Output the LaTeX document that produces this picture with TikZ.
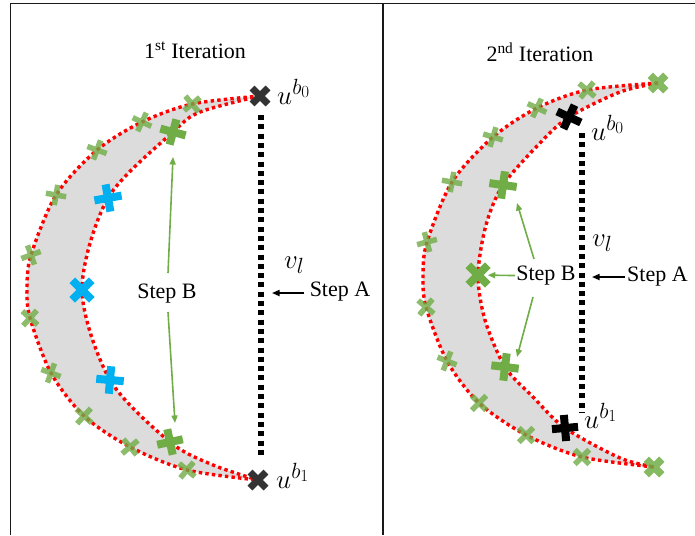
\RequirePackage{fix-cm}
\documentclass[tikz,border=0pt]{standalone}
\usepackage{fontspec}
\setmainfont{Liberation Serif}
\usetikzlibrary{shapes.misc,arrows.meta}
\definecolor{gx}{HTML}{70AD47}
\definecolor{bx}{HTML}{00B0F0}
\definecolor{kx}{HTML}{333333}
\definecolor{crescent}{RGB}{220,220,220}
\DeclareMathSizes{27}{27}{22}{17}
\newcommand{\mlab}[1]{{\fontsize{27}{32}\selectfont$#1$}}
\tikzset{
  sg/.style={cross out, draw=gx, draw opacity=0.8, line width=5.5pt, minimum size=14.5pt, inner sep=0pt, outer sep=0pt},
  bg/.style={cross out, draw=gx, line width=8pt, minimum size=18.5pt, inner sep=0pt, outer sep=0pt},
  bgx/.style={cross out, draw=gx, draw opacity=0.85, line width=7.5pt, minimum size=15.5pt, inner sep=0pt, outer sep=0pt},
  blx/.style={cross out, draw=bx, line width=8pt, minimum size=19.5pt, inner sep=0pt, outer sep=0pt},
  kxl/.style={cross out, draw=kx, line width=7pt, minimum size=16pt, inner sep=0pt, outer sep=0pt},
  kxr/.style={cross out, draw=black, line width=8pt, minimum size=18.5pt, inner sep=0pt, outer sep=0pt},
  reddot/.style={draw=red, line width=3.4pt, line cap=butt, dash pattern=on 3.4pt off 3.2pt},
  vdots/.style={draw=black, line width=5.5pt, dash pattern=on 5pt off 4.3pt},
  garrow/.style={draw=gx, line width=1.6pt, -{Triangle[length=7.5pt,width=6pt]}},
  karrow/.style={draw=black, line width=1.6pt, -{Triangle[length=7.5pt,width=6pt]}},
  lbl/.style={font=\fontsize{22}{26}\selectfont, inner sep=0pt},
  mlbl/.style={inner sep=0pt, anchor=base west},
  frame/.style={draw=black!90, line width=1.6pt}
}
\begin{document}
\begin{tikzpicture}[x=1pt,y=-1pt]
\useasboundingbox (0,0) rectangle (695,535);
% frame
\coordinate (fTL) at (10.5,3.5);
\coordinate (fTR) at (695,3.5);
\coordinate (fBL) at (10.5,535);
\coordinate (fM) at (383,3.5);
\coordinate (fMB) at (383,535);
\draw[frame] (fBL) -- (fTL) -- (fTR);
\draw[frame] (fM) -- (fMB);

% ---------- left panel ----------
\fill[crescent] plot[smooth] coordinates {(260,96) (192,104) (142,122) (97,150) (56,195) (31,255) (27,288) (30,318) (51,373) (84,416) (130,447) (187,470) (258,480)}
  -- plot[smooth] coordinates {(258,480) (213,465) (170,442) (110,380) (82,290) (108,198) (173,132) (200,112) (260,96)} -- cycle;
\draw[reddot] plot[smooth] coordinates {(260,96) (192,104) (142,122) (97,150) (56,195) (31,255) (27,288) (30,318) (51,373) (84,416) (130,447) (187,470) (258,480)};
\draw[reddot] plot[smooth] coordinates {(260,96) (200,112) (173,132) (108,198) (82,290) (110,380) (170,442) (213,465) (258,480)};

\coordinate (lvt) at (261,115);
\coordinate (lvb) at (261,455);
\draw[vdots] (lvt) -- (lvb);

\node[sg, rotate=-5] (lo1) at (192,104) {};
\node[sg, rotate=20] (lo2) at (142,122) {};
\node[sg, rotate=25] (lo3) at (97,150) {};
\node[sg, rotate=35] (lo4) at (56,195) {};
\node[sg, rotate=65] (lo5) at (31,255) {};
\node[sg, rotate=3] (lo6) at (30,318) {};
\node[sg, rotate=25] (lo7) at (51,373) {};
\node[sg, rotate=3] (lo8) at (84,416) {};
\node[sg, rotate=-5] (lo9) at (130,447) {};
\node[sg, rotate=5] (lo10) at (187,470) {};

\node[bg, rotate=30] (lg1) at (173,132) {};
\node[blx, rotate=55] (lb1) at (108,198) {};
\node[blx, rotate=0] (lb2) at (82,290) {};
\node[blx, rotate=40] (lb3) at (110,380) {};
\node[bg, rotate=57] (lg2) at (170,442) {};

\node[kxl] (lub0) at (260,96) {};
\node[kxl] (lub1) at (258,480) {};

\node[lbl] (t1) at (195,50) {1\textsuperscript{st} Iteration};
\node[mlbl] (lu0) at (277,104) {\mlab{u^{b_0}}};
\node[mlbl] (lu1) at (276,488) {\mlab{u^{b_1}}};
\node[mlbl] (lvl) at (284,268) {\mlab{v_l}};
\node[lbl] (lsB) at (167,294) {Step B};
\node[lbl] (lsA) at (340,292) {Step A};

\coordinate (lbu0) at (168,273);
\coordinate (lbu1) at (173,157);
\coordinate (lbd0) at (168,312);
\coordinate (lbd1) at (175,423);
\coordinate (la0) at (304,293);
\coordinate (la1) at (272,293);
\draw[garrow] (lbu0) -- (lbu1);
\draw[garrow] (lbd0) -- (lbd1);
\draw[karrow] (la0) -- (la1);

% ---------- right panel ----------
\fill[crescent] plot[smooth] coordinates {(658,83) (587,90) (537,108) (493,137) (452,182) (427,242) (423,275) (426,307) (447,361) (479,403) (526,435) (582,457) (654,467)}
  -- plot[smooth] coordinates {(654,467) (620,458) (565,428) (533,397) (505,367) (485,320) (478,275) (486,225) (503,185) (540,143) (569,117) (620,92) (658,83)} -- cycle;
\draw[reddot] plot[smooth] coordinates {(658,83) (587,90) (537,108) (493,137) (452,182) (427,242) (423,275) (426,307) (447,361) (479,403) (526,435) (582,457) (654,467)};
\draw[reddot] plot[smooth] coordinates {(658,83) (620,92) (569,117) (540,143) (503,185) (486,225) (478,275) (485,320) (505,367) (533,397) (565,428) (620,458) (654,467)};

\coordinate (rvt) at (582,133);
\coordinate (rvb) at (582,413);
\draw[vdots] (rvt) -- (rvb);

\node[sg, rotate=5] (ro1) at (587,90) {};
\node[sg, rotate=20] (ro2) at (537,108) {};
\node[sg, rotate=28] (ro3) at (493,137) {};
\node[sg, rotate=35] (ro4) at (452,182) {};
\node[sg, rotate=60] (ro5) at (427,242) {};
\node[sg, rotate=5] (ro6) at (426,307) {};
\node[sg, rotate=23] (ro7) at (447,361) {};
\node[sg, rotate=0] (ro8) at (479,403) {};
\node[sg, rotate=0] (ro9) at (526,435) {};
\node[sg, rotate=0] (ro10) at (582,457) {};

\node[bgx] (re0) at (658,83) {};
\node[bgx] (re1) at (654,467) {};
\node[bg, minimum size=19.5pt, rotate=37] (rg1) at (503,185) {};
\node[bg, minimum size=19.5pt, rotate=0] (rg2) at (478,275) {};
\node[bg, minimum size=19.5pt, rotate=38] (rg3) at (505,367) {};
\node[kxr, rotate=20] (rub0) at (569,117) {};
\node[kxr, rotate=50] (rub1) at (565,428) {};

\node[lbl] (t2) at (540,52) {2\textsuperscript{nd} Iteration};
\node[mlbl] (ru0) at (591,140) {\mlab{u^{b_0}}};
\node[mlbl] (ru1) at (584,428) {\mlab{u^{b_1}}};
\node[mlbl] (rvl) at (592,246) {\mlab{v_l}};
\node[lbl] (rsB) at (546,276) {Step B};
\node[lbl, anchor=west] (rsA) at (627,277) {Step A};

\coordinate (rbu0) at (534,259);
\coordinate (rbu1) at (517,203);
\coordinate (rbd0) at (533,297);
\coordinate (rbd1) at (517,357);
\coordinate (ra0) at (625,277);
\coordinate (ra1) at (592,277);
\draw[garrow, shorten <=1pt] (rsB) -- (rg2);
\draw[garrow] (rbu0) -- (rbu1);
\draw[garrow] (rbd0) -- (rbd1);
\draw[karrow] (ra0) -- (ra1);
\end{tikzpicture}
\end{document}
